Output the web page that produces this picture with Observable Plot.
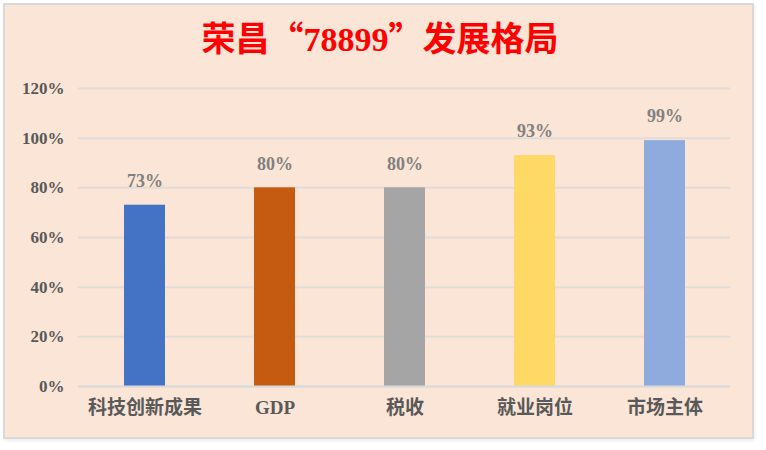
<!DOCTYPE html>
<html><head><meta charset="utf-8">
<script src="https://cdn.jsdelivr.net/npm/d3@7"></script>
<script src="https://cdn.jsdelivr.net/npm/@observablehq/plot@0.6"></script>
<style>
html,body{margin:0;padding:0;background:#fff;width:766px;height:450px;overflow:hidden;}
#panel{position:absolute;left:3px;top:3px;width:747px;height:432px;background:#FBE5D6;border:2px solid #d9d9d9;box-shadow:1px 2px 3px rgba(0,0,0,0.08);}
#title{position:absolute;left:0;top:17px;width:760px;text-align:center;font-family:"Liberation Serif","Noto Sans CJK SC",serif;font-weight:bold;font-size:34px;color:#FF0000;line-height:40px;}
#title .q{font-family:"Noto Sans CJK SC",sans-serif;}
#chart{position:absolute;left:0;top:60px;}
</style></head>
<body>
<div id="panel"></div>
<div id="title">荣昌<span class="q">“</span>78899<span class="q">”</span>发展格局</div>
<div id="chart"></div>
<script>
const categories = ["科技创新成果","GDP","税收","就业岗位","市场主体"];
const values = [0.73, 0.80, 0.80, 0.93, 0.99];
const labels = ["73%","80%","80%","93%","99%"];
const colors = ["#4472C4","#C55A11","#A5A5A5","#FFD966","#8FAADC"];
const yTicks = [0,0.2,0.4,0.6,0.8,1.0,1.2];

const data = categories.map((c,i)=>({cat:c, v:values[i], label:labels[i]}));

const chart = Plot.plot({
  width: 766,
  height: 370,
  marginLeft: 78,
  marginRight: 36,
  marginTop: 28,
  marginBottom: 44,
  style: {background:"transparent", fontFamily:"'Liberation Serif','Noto Sans CJK SC',serif"},
  x: {domain: categories, paddingInner: 0.685, paddingOuter: 0.3425, label: null},
  y: {domain: [0,1.2], label: null},
  color: {domain: categories, range: colors},
  marks: [
    Plot.gridY(yTicks, {stroke:"#e2dcd8", strokeOpacity:1, strokeWidth:2}),
    Plot.barY(data, {x:"cat", y:"v", fill:"cat"}),
    Plot.ruleY([0], {stroke:"#d9d9d9", strokeWidth:2}),
    Plot.text(data, {x:"cat", y:"v", text:"label", dy:-24, fill:"#808080", fontWeight:"bold", fontSize:18}),
    Plot.axisY(yTicks, {tickFormat: d => Math.round(d*100)+"%", tickSize:0, tickPadding:14, fontSize:17, fontWeight:"bold", fill:"#595959", label:null}),
    Plot.axisX({tickSize:0, tickPadding:14, fontSize:19, fontWeight:"bold", fill:"#595959", label:null})
  ]
});
document.getElementById("chart").appendChild(chart);
</script>
</body></html>
